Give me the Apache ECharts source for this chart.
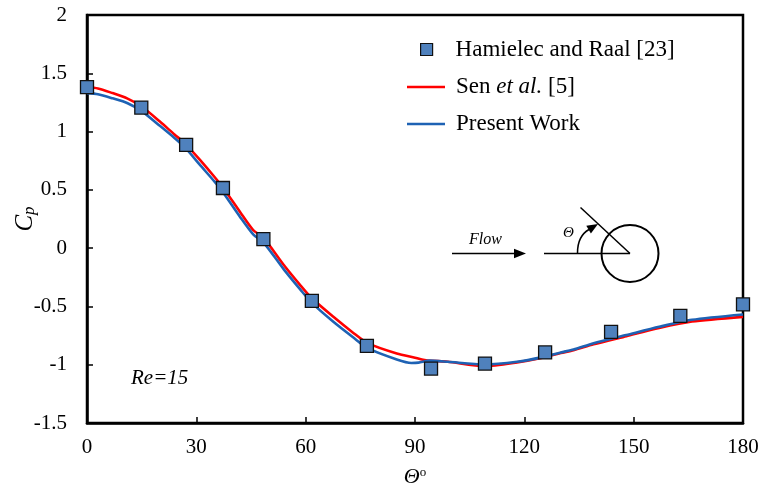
<!DOCTYPE html>
<html><head><meta charset="utf-8">
<script src="https://cdn.jsdelivr.net/npm/echarts@6/dist/echarts.min.js"></script>
<style>html,body{margin:0;padding:0;background:#fff}#c{width:762px;height:488px}</style>
</head><body><div id="c"></div>
<script>
// ---- data ----
const seriesNames = ['Hamielec and Raal [23]', 'Sen et al. [5]', 'Present Work'];
const hamTheta = [0, 14.9, 27.2, 37.3, 48.4, 61.7, 76.8, 94.4, 109.2, 125.7, 143.8, 162.8, 180];
const hamCp    = [1.381, 1.206, 0.886, 0.516, 0.078, -0.452, -0.838, -1.033, -0.990, -0.895, -0.718, -0.581, -0.483];
const senTheta = [0, 3, 7, 11, 15, 20, 24, 27, 31, 35, 37.3, 42, 45.6, 48.4, 54, 58.5, 61.7, 67.6, 73, 77, 85, 90, 93, 99, 109, 118, 125, 130, 133.5, 139, 148, 157, 166, 180];
const senCp    = [1.38, 1.37, 1.33, 1.285, 1.215, 1.086, 0.975, 0.895, 0.757, 0.61, 0.52, 0.31, 0.155, 0.09, -0.145, -0.317, -0.43, -0.589, -0.725, -0.815, -0.904, -0.94, -0.962, -0.975, -1.013, -0.98, -0.94, -0.9, -0.875, -0.825, -0.755, -0.685, -0.63, -0.59];
const presTheta = [0, 3, 7, 11, 15, 20, 24, 27, 31, 35, 37.3, 42, 45.6, 48.4, 54, 58.5, 61.7, 67.6, 73, 77, 85, 89, 91, 94, 99, 109, 118, 125, 130, 133.5, 139, 148, 157, 166, 180];
const presCp    = [1.33, 1.32, 1.285, 1.245, 1.175, 1.049, 0.945, 0.86, 0.714, 0.57, 0.48, 0.268, 0.118, 0.05, -0.182, -0.354, -0.47, -0.632, -0.765, -0.858, -0.955, -0.985, -0.982, -0.965, -0.975, -0.998, -0.975, -0.935, -0.895, -0.87, -0.815, -0.745, -0.675, -0.615, -0.569];
const xMin = 0, xMax = 180, xStep = 30;
const yMin = -1.5, yMax = 2, yStep = 0.5;

const zip = (a, b) => a.map((v, i) => [v, b[i]]);
const FONT = "'Liberation Serif','Times New Roman',serif";

const chart = echarts.init(document.getElementById('c'), null, {renderer: 'canvas'});
chart.setOption({
  backgroundColor: '#fff',
  animation: false,
  grid: {left: 87, right: 19, top: 15, bottom: 65, show: true, borderColor: '#000', borderWidth: 2.5, backgroundColor: 'transparent', containLabel: false, outerBoundsMode: 'none'},
  xAxis: {
    type: 'value', min: xMin, max: xMax, interval: xStep,
    name: '{i|Θ}{s|o}', nameLocation: 'middle', nameGap: 43, nameMoveOverlap: false,
    nameTextStyle: {rich: {
      i: {fontFamily: FONT, fontStyle: 'italic', fontSize: 22, color: '#000', lineHeight: 22, verticalAlign: 'bottom'},
      s: {fontFamily: FONT, fontSize: 13, color: '#000', lineHeight: 22, verticalAlign: 'top', padding: [0, 0, 6, 0]}
    }},
    axisLine: {onZero: false, lineStyle: {color: '#000', width: 2.5}},
    axisTick: {inside: true, length: 6, lineStyle: {color: '#000', width: 1.5}},
    axisLabel: {fontFamily: FONT, fontSize: 21, color: '#000', margin: 14},
    splitLine: {show: false}
  },
  yAxis: {
    type: 'value', min: yMin, max: yMax, interval: yStep,
    name: '{i|C}{s|p}', nameLocation: 'middle', nameGap: 49, nameRotate: 90, nameMoveOverlap: false,
    nameTextStyle: {rich: {
      i: {fontFamily: FONT, fontStyle: 'italic', fontSize: 25, color: '#000', lineHeight: 26},
      s: {fontFamily: FONT, fontStyle: 'italic', fontSize: 17, color: '#000', lineHeight: 26, verticalAlign: 'bottom', padding: [9, 0, 0, 0]}
    }},
    axisLine: {onZero: false, lineStyle: {color: '#000', width: 2.5}},
    axisTick: {inside: true, length: 6, lineStyle: {color: '#000', width: 1.5}},
    axisLabel: {fontFamily: FONT, fontSize: 21, color: '#000', margin: 20},
    splitLine: {show: false}
  },
  legend: [
    {
      data: [{name: seriesNames[0], icon: 'rect', itemStyle: {color: '#4f81bd', borderColor: '#111', borderWidth: 1.2}}],
      orient: 'vertical', left: 415, top: 33, itemWidth: 12, itemHeight: 12,
      textStyle: {fontFamily: FONT, fontSize: 23, color: '#000', lineHeight: 23, padding: [0, 0, 0, 18]}
    },
    {
      data: [{name: seriesNames[1], icon: 'rect'}, {name: seriesNames[2], icon: 'rect'}],
      orient: 'vertical', left: 402, top: 70.5, itemWidth: 38, itemHeight: 2.6, itemGap: 14,
      formatter: n => n === seriesNames[1] ? '{n|Sen }{i|et al.}{n| [5]}' : '{n|' + n + '}',
      textStyle: {fontFamily: FONT, fontSize: 23, color: '#000', lineHeight: 23, padding: [0, 0, 0, 6],
        rich: {n: {fontFamily: FONT, fontSize: 23, color: '#000', lineHeight: 23}, i: {fontFamily: FONT, fontStyle: 'italic', fontSize: 23, color: '#000', lineHeight: 23}}}
    }
  ],
  series: [
    {name: seriesNames[1], type: 'line', data: zip(senTheta, senCp), smooth: 0.25, symbol: 'none',
      lineStyle: {color: '#ff0000', width: 2.6}, itemStyle: {color: '#ff0000'}, z: 2},
    {name: seriesNames[2], type: 'line', data: zip(presTheta, presCp), smooth: 0.25, symbol: 'none',
      lineStyle: {color: '#1e62b4', width: 2.6}, itemStyle: {color: '#1e62b4'}, z: 3},
    {name: seriesNames[0], type: 'scatter', data: zip(hamTheta, hamCp), symbol: 'rect', symbolSize: 13, clip: false,
      itemStyle: {color: '#4f81bd', borderColor: '#111', borderWidth: 1.3, opacity: 1}, z: 5}
  ],
  graphic: [
    {type: 'text', left: 131, top: 368, style: {text: 'Re=15', fontFamily: FONT, fontStyle: 'italic', fontSize: 21, fill: '#000'}},
    {type: 'text', left: 469, top: 232, style: {text: 'Flow', fontFamily: FONT, fontStyle: 'italic', fontSize: 16, fill: '#000'}},
    {type: 'line', shape: {x1: 452, y1: 253.5, x2: 516, y2: 253.5}, style: {stroke: '#000', lineWidth: 1.5}},
    {type: 'polygon', shape: {points: [[526, 253.5], [514, 248.8], [514, 258.2]]}, style: {fill: '#000'}},
    {type: 'line', shape: {x1: 544, y1: 253.5, x2: 630, y2: 253.5}, style: {stroke: '#000', lineWidth: 1.5}},
    {type: 'line', shape: {x1: 630, y1: 253.5, x2: 580.5, y2: 207.5}, style: {stroke: '#000', lineWidth: 1.5}},
    {type: 'circle', shape: {cx: 630, cy: 253.5, r: 28.5}, style: {stroke: '#000', lineWidth: 2, fill: 'none'}},
    {type: 'bezierCurve', shape: {x1: 577.5, y1: 253, cpx1: 577.5, cpy1: 236, x2: 589, y2: 229.5}, style: {stroke: '#000', lineWidth: 1.5, fill: 'none'}},
    {type: 'polygon', shape: {points: [[598, 224], [590.9, 233.6], [586.3, 225.8]]}, style: {fill: '#000'}},
    {type: 'text', left: 563, top: 226, style: {text: 'Θ', fontFamily: FONT, fontStyle: 'italic', fontSize: 15, fill: '#000'}}
  ]
});
</script></body></html>
